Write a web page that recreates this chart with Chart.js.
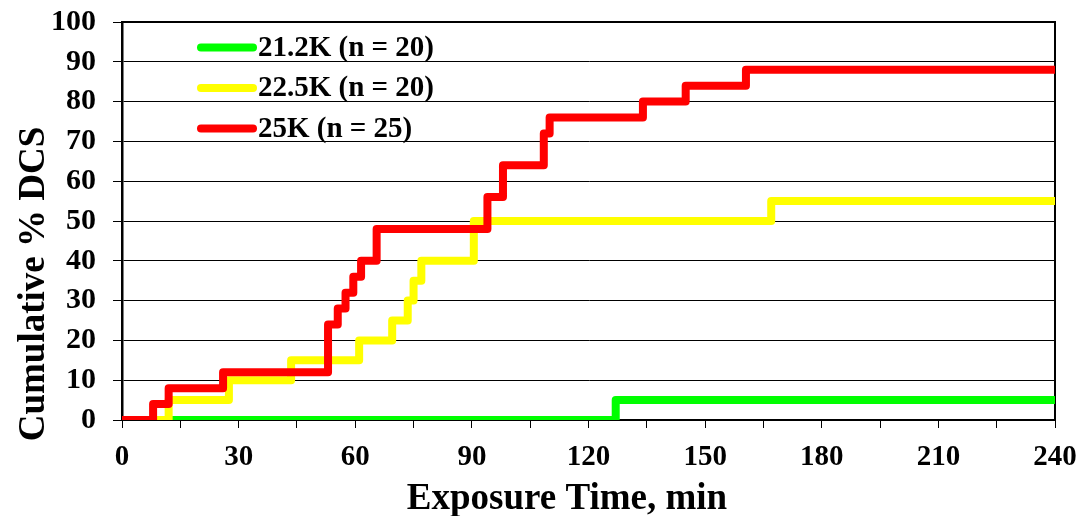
<!DOCTYPE html>
<html>
<head>
<meta charset="utf-8">
<script src="https://cdn.jsdelivr.net/npm/chart.js@4.4.1/dist/chart.umd.min.js"></script>
<style>
    html, body { margin: 0; padding: 0; background: #fff; }
    #wrap { width: 1090px; height: 516px; }
</style>
</head>
<body>
<div id="wrap"><canvas id="dcsChart" width="1090" height="516"></canvas></div>
<script>
// ================= DATA =================
const seriesLabels = ['21.2K (n = 20)', '22.5K (n = 20)', '25K (n = 25)'];
const seriesColors = ['#00ff00', '#ffff00', '#ff0000'];

// exposure time (min) at each step, cumulative % DCS after the step
const greenTimes = [0, 127, 240];
const greenPct   = [0, 5, 5];

const yellowTimes = [0, 12, 27.5, 43.5, 61, 69.5, 73.5, 75, 77, 90.5, 167, 240];
const yellowPct   = [0, 5, 10, 15, 20, 25, 30, 35, 40, 50, 55, 55];

const redTimes = [0, 8, 12, 26, 53, 55.5, 57.5, 59.5, 61.5, 65.5, 94, 98, 108.5, 110, 134, 145, 160.5, 240];
const redPct   = [0, 4, 8, 12, 24, 28, 32, 36, 40, 48, 56, 64, 72, 76, 80, 84, 88, 88];

const xTickLabels = [0, 30, 60, 90, 120, 150, 180, 210, 240];
const yTickLabels = [0, 10, 20, 30, 40, 50, 60, 70, 80, 90, 100];

const xTitle = 'Exposure Time, min';
const yTitle = 'Cumulative % DCS';

const FONT = '"Liberation Serif", "Times New Roman", serif';
const LINE_W = 8;

// ================= HELPERS =================
const toPoints = (times, pct) => times.map((t, i) => ({ x: t, y: pct[i] }));

const makeSet = (idx, times, pct, order) => ({
    label: seriesLabels[idx],
    data: toPoints(times, pct),
    borderColor: seriesColors[idx],
    backgroundColor: seriesColors[idx],
    borderWidth: LINE_W,
    borderCapStyle: 'round',
    borderJoinStyle: 'round',
    stepped: 'before',
    pointRadius: 0,
    fill: false,
    order
});

// ================= PLUGINS =================
const framePlugin = {
    id: 'frame',
    beforeDatasetsDraw(chart) {
        const { ctx, chartArea: a } = chart;
        ctx.save();
        ctx.strokeStyle = '#000';
        ctx.lineWidth = 2;
        ctx.beginPath();
        ctx.moveTo(a.left, a.top);
        ctx.lineTo(a.right, a.top);
        ctx.lineTo(a.right, a.bottom);
        ctx.stroke();
        ctx.restore();
    },
    afterDatasetsDraw(chart) {
        const { ctx } = chart;
        ctx.save();
        ctx.font = 'bold 29px ' + FONT;
        ctx.textBaseline = 'middle';
        ctx.fillStyle = '#000';
        chart.data.datasets.forEach((ds, i) => {
            const y = 47.5 + i * 40.5;
            ctx.strokeStyle = ds.borderColor;
            ctx.lineWidth = LINE_W;
            ctx.lineCap = 'round';
            ctx.beginPath();
            ctx.moveTo(201, y);
            ctx.lineTo(253, y);
            ctx.stroke();
            ctx.fillText(ds.label, 258, y + 1);
        });
        ctx.restore();
    },
    afterDraw(chart) {
        const { ctx } = chart;
        ctx.save();
        ctx.fillStyle = '#000';
        ctx.font = 'bold 37px ' + FONT;
        ctx.textAlign = 'center';
        ctx.textBaseline = 'alphabetic';
        ctx.fillText(xTitle, 567, 509);
        ctx.translate(44, 284);
        ctx.rotate(-Math.PI / 2);
        ctx.fillText(yTitle, 0, 0);
        ctx.restore();
    }
};

// ================= CHART =================
new Chart(document.getElementById('dcsChart'), {
    type: 'line',
    data: {
        datasets: [
            makeSet(0, greenTimes, greenPct, 3),
            makeSet(1, yellowTimes, yellowPct, 2),
            makeSet(2, redTimes, redPct, 1)
        ]
    },
    options: {
        responsive: false,
        animation: false,
        devicePixelRatio: 1,
        layout: { padding: { top: 22, right: 35, left: 0, bottom: 0 } },
        plugins: {
            legend: { display: false },
            tooltip: { enabled: false }
        },
        scales: {
            x: {
                type: 'linear',
                min: 0,
                max: 240,
                afterFit: s => { s.height = 96; s.paddingLeft = 0; s.paddingRight = 0; },
                grid: { drawOnChartArea: false, drawTicks: true, tickLength: 8, color: '#000' },
                border: { display: true, color: '#000', width: 2 },
                ticks: {
                    stepSize: 15,
                    autoSkip: false,
                    maxRotation: 0,
                    padding: 12,
                    color: '#000',
                    font: { family: FONT, size: 29, weight: 'bold' },
                    callback: v => xTickLabels.includes(v) ? String(v) : ''
                }
            },
            y: {
                min: 0,
                max: 100,
                afterFit: s => { s.width = 122; s.paddingTop = 0; s.paddingBottom = 0; },
                grid: { color: '#000', lineWidth: 1, drawTicks: true, tickLength: 9 },
                border: { display: true, color: '#000', width: 2.5 },
                ticks: {
                    stepSize: 10,
                    autoSkip: false,
                    padding: 17,
                    color: '#000',
                    font: { family: FONT, size: 30, weight: 'bold' },
                    callback: v => yTickLabels.includes(v) ? String(v) : ''
                }
            }
        }
    },
    plugins: [framePlugin]
});
</script>
</body>
</html>
